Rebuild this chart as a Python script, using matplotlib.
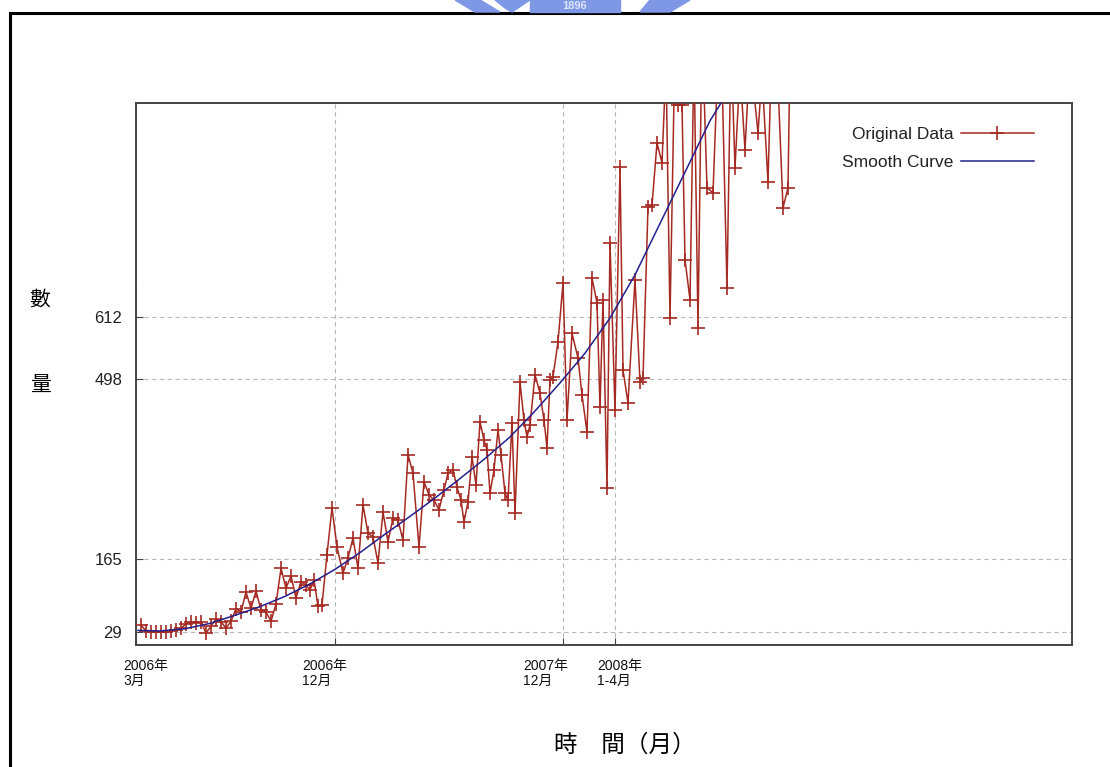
import matplotlib
matplotlib.use('Agg')
import matplotlib.pyplot as plt
from matplotlib.patches import Rectangle, Polygon

# time axis: position along the x axis (arbitrary units, 0 = 2006/3)
t_data = [5, 10, 15, 20, 25, 30, 35, 40, 45, 50, 55, 60, 65, 70, 75, 80, 85, 90, 95, 100,
          105, 110, 115, 120, 125, 130, 135, 140, 145, 150, 155, 160, 165, 170, 174, 178, 182, 186,
          191, 196, 201, 207, 212, 217, 222, 227, 232, 237, 242, 247, 252, 257, 262, 267,
          272, 277, 283, 288, 293, 298, 303, 308, 312, 317, 321, 325, 328, 332, 336, 340,
          344, 348, 351, 354, 358, 362, 365, 369, 372, 376, 379, 384, 388, 391, 394, 399,
          404, 408, 411, 414, 417, 422, 427, 431, 436, 442, 446, 451, 456, 461, 464, 467,
          471, 474, 479, 484, 487, 492, 499, 504, 507, 512, 516, 521, 526, 530, 534, 539,
          542, 546, 549, 554, 558, 562, 566, 571, 577, 582, 586, 591, 595, 599, 604, 609,
          614, 622, 626, 632, 636, 641, 647, 652, 654]
counts = [42, 31, 29, 29, 29, 29, 31, 33, 36, 44, 48, 46, 48, 27, 40, 53, 48, 36, 49, 72,
          66, 103, 73, 105, 70, 66, 49, 81, 147, 110, 133, 92, 122, 116, 107, 125, 77, 79,
          172, 259, 186, 138, 166, 203, 147, 264, 212, 205, 157, 251, 196, 240, 236, 199,
          357, 323, 186, 307, 283, 273, 255, 292, 323, 329, 297, 273, 233, 270, 353, 301,
          418, 384, 366, 286, 329, 403, 357, 286, 273, 416, 249, 492, 421, 390, 412, 505,
          471, 421, 370, 495, 501, 566, 675, 421, 582, 536, 468, 399, 684, 638, 445, 644,
          296, 749, 440, 890, 514, 453, 681, 492, 499, 816, 819, 934, 897, 1080, 610, 1120,
          1004, 1004, 718, 644, 1100, 592, 1150, 851, 842, 1090, 1060, 666, 1120, 888,
          1070, 921, 1100, 953, 1060, 862, 1130, 1090, 814, 851, 1100]

t_smooth = [2, 24, 49, 74, 99, 124, 149, 174, 199, 224, 249, 274, 299, 324, 349,
            374, 399, 424, 449, 474, 499, 524, 549, 574, 599]
smooth = [32, 31, 35, 45, 60, 76, 95, 118, 145, 176, 210, 243, 277, 313, 350,
          390, 438, 490, 545, 610, 690, 785, 880, 975, 1050]

y_ticks = [29, 165, 498, 612]
x_ticks = [0, 199, 427, 479]
x_labels = ['2006年\n3月', '2006年\n12月', '2007年\n12月', '2008年\n1-4月']
x_label_shift = [-13, -33, -40, -18]

fonts = ['Liberation Sans', 'Noto Sans CJK TC', 'DejaVu Sans']
cjk = ['Noto Sans CJK TC', 'DejaVu Sans']
plt.rcParams['font.family'] = fonts

W, H = 1110, 767
fig = plt.figure(figsize=(W / 100, H / 100), dpi=100)
ax = fig.add_axes([136 / W, 1 - 645 / H, (1072 - 136) / W, (645 - 103) / H])

ax.plot(t_data, counts, color='#a52a22', lw=1.1, marker='+', ms=10.5, mew=1.2,
        label='Original Data', zorder=3)
ax.plot(t_smooth, smooth, color='#22208c', lw=1.1, label='Smooth Curve', zorder=4)

ax.set_xlim(0, 936)
ax.set_ylim(5, 1008)
ax.set_yticks(y_ticks)
ax.set_yticklabels([str(v) for v in y_ticks], fontsize=12, color='#222222')
ax.set_xticks(x_ticks)
ax.set_xticklabels([])
ax.tick_params(direction='in', length=5, color='#444444', pad=10)
ax.grid(True, color='#b8b8b8', lw=0.8, ls=(0, (4, 3)))
for s in ax.spines.values():
    s.set_color('#444444')
    s.set_linewidth(1.4)

for xt, lab, dx in zip(x_ticks, x_labels, x_label_shift):
    ax.text(xt + dx, -0.026, lab, transform=ax.get_xaxis_transform(),
            ha='left', va='top', fontsize=10, linespacing=1.05, color='#111111')

leg = ax.legend(loc='upper right', frameon=False, markerfirst=False, numpoints=1,
                fontsize=12.5, handlelength=4.2, handletextpad=0.4,
                borderaxespad=1.0, labelspacing=0.7, bbox_to_anchor=(0.985, 1.0))
for txt in leg.get_texts():
    txt.set_color('#222222')

# axis titles
fig.text(40 / W, 1 - 300 / H, '數', family=cjk, fontsize=15, ha='center', va='center')
fig.text(40 / W, 1 - 386 / H, '量', family=cjk, fontsize=15, ha='center', va='center')
fig.text(625 / W, 1 - 745 / H, '時　間（月）', family=cjk, fontsize=17,
         ha='center', va='center')

# page frame and logo fragment at the top
fig.patches.append(Rectangle((10 / W, -0.05), 1.1, 1 - 13 / H + 0.05, fill=False,
                             edgecolor='black', lw=2.2, transform=fig.transFigure))
for pts in ([(455, 0), (480, 0), (500, 12), (475, 12)],
            [(495, 0), (530, 0), (512, 12), (505, 8)],
            [(650, 0), (690, 0), (670, 12), (640, 12)]):
    fig.patches.append(Polygon([(x / W, 1 - y / H) for x, y in pts], closed=True,
                               color='#7e98e6', transform=fig.transFigure))
fig.patches.append(Rectangle((530 / W, 1 - 12 / H), 90 / W, 12 / H,
                             color='#7e98e6', transform=fig.transFigure))
fig.text(575 / W, 1 - 6 / H, '1896', color='#dfe6fa', fontsize=8, weight='bold',
         ha='center', va='center')

fig.savefig('out.png', dpi=100)
